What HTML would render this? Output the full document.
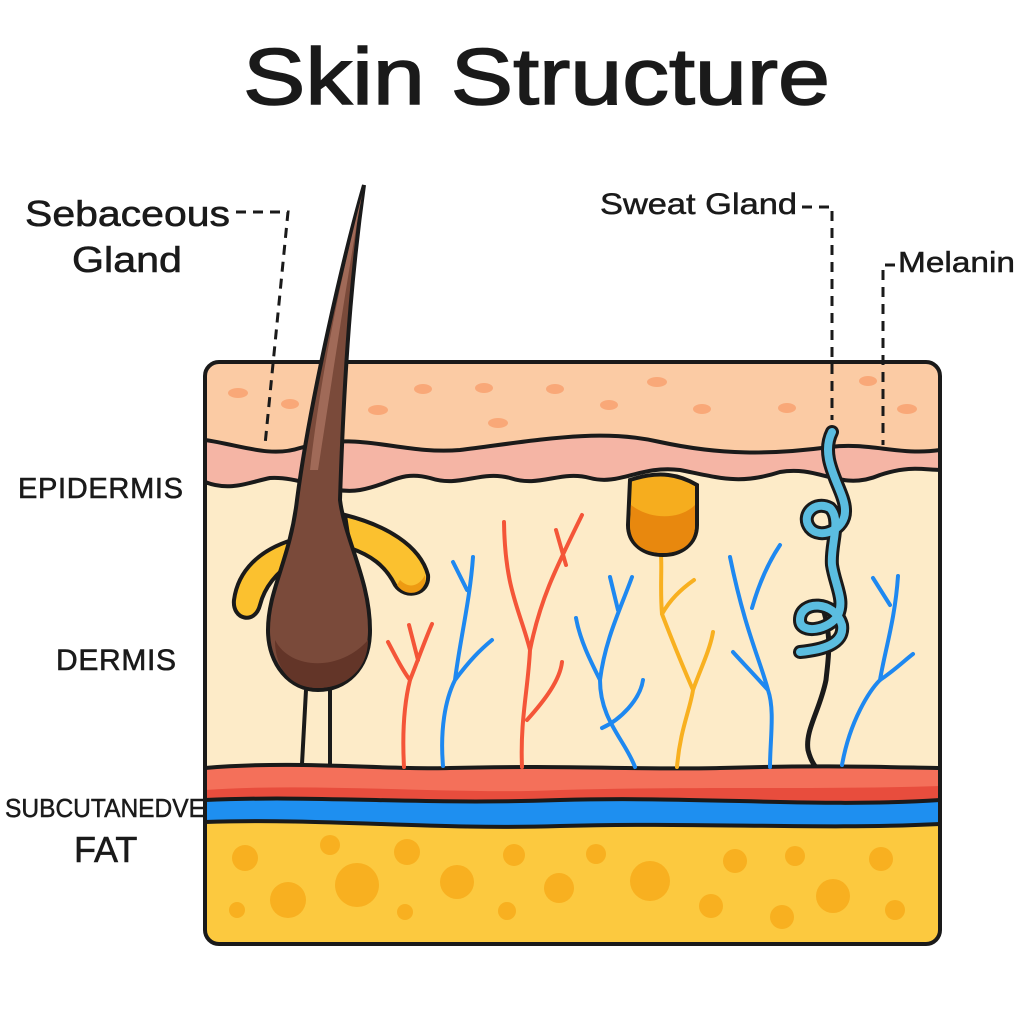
<!DOCTYPE html>
<html><head><meta charset="utf-8"><style>
html,body{margin:0;padding:0;background:#fff;}
svg{display:block;}
text{font-family:"Liberation Sans",sans-serif;fill:#1a1a1a;}
</style></head><body>
<svg width="1024" height="1024" viewBox="0 0 1024 1024" xmlns="http://www.w3.org/2000/svg">
<defs><clipPath id="box"><rect x="205" y="362" width="735" height="582" rx="14"/></clipPath></defs>
<text x="243" y="104" font-size="80" textLength="587" lengthAdjust="spacingAndGlyphs" stroke="#1a1a1a" stroke-width="1.5">Skin Structure</text>
<text x="25" y="226" font-size="36" textLength="205" lengthAdjust="spacingAndGlyphs" stroke="#1a1a1a" stroke-width="0.6">Sebaceous</text>
<text x="72" y="272" font-size="36" textLength="110" lengthAdjust="spacingAndGlyphs" stroke="#1a1a1a" stroke-width="0.6">Gland</text>
<text x="600" y="214" font-size="30" textLength="197" lengthAdjust="spacingAndGlyphs" stroke="#1a1a1a" stroke-width="0.5">Sweat Gland</text>
<text x="898" y="272" font-size="29" textLength="117" lengthAdjust="spacingAndGlyphs" stroke="#1a1a1a" stroke-width="0.5">Melanin</text>
<text x="18" y="498" font-size="29" stroke="#1a1a1a" stroke-width="0.6" textLength="165">EPIDERMIS</text>
<text x="56" y="670" font-size="30" stroke="#1a1a1a" stroke-width="0.6" textLength="120">DERMIS</text>
<text x="5" y="817" font-size="26" stroke="#1a1a1a" stroke-width="0.5" textLength="200" lengthAdjust="spacingAndGlyphs">SUBCUTANEDVE</text>
<text x="74" y="862" font-size="36" stroke="#1a1a1a" stroke-width="0.6">FAT</text>
<g clip-path="url(#box)">
<rect x="205" y="362" width="735" height="582" fill="#fbcba4"/>
<g fill="#f9a878">
<ellipse cx="238" cy="393" rx="10" ry="5"/><ellipse cx="290" cy="404" rx="9" ry="5"/><ellipse cx="378" cy="410" rx="10" ry="5"/>
<ellipse cx="423" cy="389" rx="9" ry="5"/><ellipse cx="484" cy="388" rx="9" ry="5"/><ellipse cx="498" cy="423" rx="10" ry="5"/>
<ellipse cx="555" cy="389" rx="9" ry="5"/><ellipse cx="609" cy="405" rx="9" ry="5"/><ellipse cx="657" cy="382" rx="10" ry="5"/>
<ellipse cx="702" cy="409" rx="9" ry="5"/><ellipse cx="787" cy="408" rx="9" ry="5"/><ellipse cx="868" cy="381" rx="9" ry="5"/><ellipse cx="907" cy="409" rx="10" ry="5"/>
</g>
<path d="M205 440 C240 445 270 458 300 448 C360 430 400 455 460 450 C540 440 600 428 660 442 C720 455 770 455 830 447 C870 442 900 456 940 450 V800 H205Z" fill="#f5b5a5" stroke="#1a1a1a" stroke-width="4"/>
<path d="M205 482 C230 492 250 482 270 478 C300 476 330 495 360 490 C390 485 400 470 430 478 C460 488 480 470 510 478 C540 488 560 470 590 478 C620 486 640 465 680 470 C720 478 740 485 780 472 C820 465 840 492 880 475 C910 465 925 470 940 470 V800 H205Z" fill="#fdebc8" stroke="#1a1a1a" stroke-width="4"/>
<path d="M205 768 C300 760 380 770 450 768 C560 765 650 770 720 768 C820 765 880 767 940 768 V830 H205Z" fill="#f4705a" stroke="#1a1a1a" stroke-width="4"/>
<path d="M205 790 C320 782 450 795 560 790 C700 786 820 790 940 786 V830 H205Z" fill="#e84d3d"/>
<path d="M205 800 C320 795 420 805 560 800 C700 796 820 808 940 800 V850 H205Z" fill="#1e8ff0" stroke="#1a1a1a" stroke-width="4"/>
<path d="M205 822 C330 818 430 830 560 826 C700 822 820 830 940 824 V944 H205Z" fill="#fcc93f" stroke="#1a1a1a" stroke-width="4"/>
<g fill="#f8b020">
<circle cx="245" cy="858" r="13"/><circle cx="288" cy="900" r="18"/><circle cx="237" cy="910" r="8"/><circle cx="357" cy="885" r="22"/>
<circle cx="330" cy="845" r="10"/><circle cx="407" cy="852" r="13"/><circle cx="405" cy="912" r="8"/><circle cx="457" cy="882" r="17"/>
<circle cx="514" cy="855" r="11"/><circle cx="507" cy="911" r="9"/><circle cx="559" cy="888" r="15"/><circle cx="596" cy="854" r="10"/>
<circle cx="650" cy="881" r="20"/><circle cx="711" cy="906" r="12"/><circle cx="735" cy="861" r="12"/><circle cx="782" cy="917" r="12"/>
<circle cx="795" cy="856" r="10"/><circle cx="833" cy="896" r="17"/><circle cx="881" cy="859" r="12"/><circle cx="895" cy="910" r="10"/>
</g>
</g>
<rect x="205" y="362" width="735" height="582" rx="14" fill="none" stroke="#1a1a1a" stroke-width="4"/>
<g fill="none" stroke="#1a1a1a" stroke-width="3" stroke-dasharray="10,7">
<path d="M236 212 H288 L265 445"/>
<path d="M802 207 H832 V420"/>
<path d="M895 265 H883 V445"/>
</g>
<g fill="none" stroke-width="4" stroke-linecap="round">
<g stroke="#f45538">
<path d="M404 767 C402 730 405 700 410 680 C418 660 425 640 432 624 M410 680 C402 670 395 655 388 642 M409 625 L418 660"/>
<path d="M522 767 C520 720 528 690 530 650 C520 610 505 590 504 522 M530 650 C540 600 555 570 582 515 M556 530 L566 565 M527 720 C545 700 560 680 562 662"/>
</g>
<g stroke="#1e88f0">
<path d="M443 766 C440 730 445 700 455 680 C470 660 480 650 492 640 M455 680 C460 640 470 600 473 557 M453 562 L467 590"/>
<path d="M635 767 C625 740 600 720 600 680 C605 640 620 610 632 577 M600 680 C590 660 580 640 576 618 M610 577 L618 610 M602 728 C620 720 640 700 643 680"/>
<path d="M770 767 C770 740 775 710 768 690 C750 670 740 660 733 652 M768 690 C760 660 745 630 730 557 M752 608 C760 580 770 560 780 545"/>
<path d="M842 765 C850 720 870 690 880 680 C895 670 905 660 913 654 M880 680 C885 650 895 620 898 576 M873 578 L890 605"/>
</g>
<path d="M677 767 C680 730 690 710 693 690 C680 660 672 640 662 614 C660 590 662 570 661 555 M693 690 C700 670 710 650 713 632 M662 614 C670 600 680 590 694 580" stroke="#f8b020"/>
</g>
<path d="M630 480 C660 470 680 475 697 485 L697 525 C697 545 680 555 663 555 C645 555 628 545 628 525Z" fill="#f6ad1e" stroke="#1a1a1a" stroke-width="4"/>
<path d="M631 505 C650 520 680 520 695 505 L695 525 C695 545 680 553 663 553 C645 553 630 545 630 525Z" fill="#e8880e"/>
<path d="M824 612 C832 640 828 660 826 680 C820 710 805 730 808 750 C810 758 812 762 815 766" fill="none" stroke="#1a1a1a" stroke-width="5"/>
<g fill="none" stroke-linecap="round" stroke-linejoin="round">
<path d="M832 432 C818 460 845 490 845 510 C846 530 820 540 810 528 C800 515 815 500 830 508 C842 520 830 545 832 565 C835 585 845 600 838 615 C830 630 800 635 800 620 C800 600 835 600 842 625 C845 645 820 650 800 652" stroke="#1a1a1a" stroke-width="14"/>
<path d="M832 432 C818 460 845 490 845 510 C846 530 820 540 810 528 C800 515 815 500 830 508 C842 520 830 545 832 565 C835 585 845 600 838 615 C830 630 800 635 800 620 C800 600 835 600 842 625 C845 645 820 650 800 652" stroke="#5bbde0" stroke-width="8"/>
</g>
<path d="M292 540 C260 550 238 570 234 600 C232 620 255 625 260 605 C265 585 280 570 295 560Z" fill="#fbc12f" stroke="#1a1a1a" stroke-width="4"/>
<path d="M345 515 C385 525 420 545 428 575 C430 595 405 600 395 585 C385 565 370 555 350 548Z" fill="#fbc12f" stroke="#1a1a1a" stroke-width="4"/>
<path d="M400 580 C410 590 420 585 425 575 C428 595 405 598 397 585Z" fill="#ee9b12"/>
<path d="M306 690 L302 764 M330 690 L330 764" stroke="#1a1a1a" stroke-width="4" fill="none"/>
<path d="M364 185 C355 250 345 340 340 500 C345 540 370 580 370 630 C370 670 345 690 318 690 C290 690 268 665 268 630 C268 590 290 560 297 500 C310 400 345 250 364 185Z" fill="#7a4a3a" stroke="#1a1a1a" stroke-width="4"/>
<path d="M362 195 C350 260 335 360 318 470 L310 470 C320 380 340 280 362 195Z" fill="#a06a58"/>
<path d="M275 640 C290 670 340 672 368 640 C368 670 345 688 318 688 C292 688 275 670 275 640Z" fill="#633528"/>
</svg>
</body></html>
